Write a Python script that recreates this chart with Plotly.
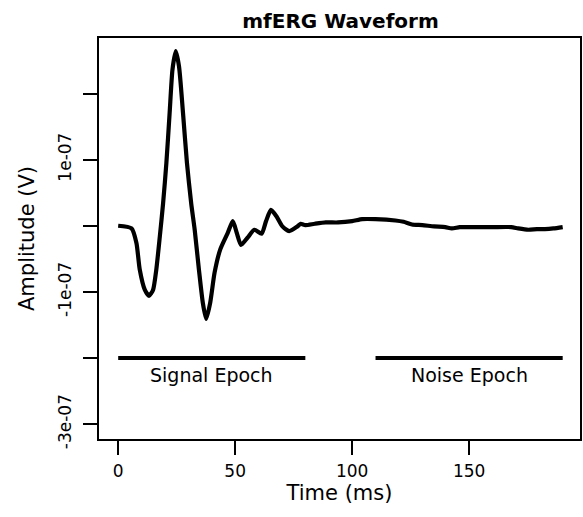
import plotly.graph_objects as go

# Waveform (time in ms, amplitude in 1e-07 V)
time_ms = [0, 5.7, 7.8, 9.2, 11.4, 13.2, 14.9, 16.3, 17.8, 19.2, 20.6, 22.0, 23.2, 24.6,
           26.0, 27.7, 29.4, 31.2, 32.7, 34.5, 36.2, 37.6, 39.3, 41.2, 43.6, 46.8, 49.0,
           50.7, 52.5, 55.3, 58.2, 61.3, 63.2, 65.3, 67.7, 70.2, 73.1, 76.6, 78.0, 80.0,
           84.0, 88.7, 94.0, 100.0, 104.3, 110.0, 118.5, 122.0, 125.6, 130.0, 135.0,
           139.8, 142.6, 146.0, 150.0, 160.0, 168.0, 171.0, 175.3, 179.0, 182.4, 186.0, 190.0]
amp_e7 = [0.0, -0.04, -0.26, -0.66, -0.97, -1.06, -0.97, -0.66, -0.16, 0.34, 0.95, 1.71, 2.36, 2.64,
          2.41, 1.71, 0.95, 0.34, -0.06, -0.66, -1.17, -1.41, -1.17, -0.71, -0.36, -0.11, 0.07,
          -0.11, -0.29, -0.18, -0.06, -0.12, 0.07, 0.24, 0.14, -0.01, -0.08, -0.01, 0.03, 0.01,
          0.03, 0.05, 0.05, 0.07, 0.10, 0.10, 0.08, 0.06, 0.02, 0.01, -0.01,
          -0.02, -0.04, -0.02, -0.02, -0.02, -0.02, -0.04, -0.06, -0.05, -0.05, -0.04, -0.02]
amplitude = [a * 1e-07 for a in amp_e7]

# Epochs
epoch_names = ["Signal Epoch", "Noise Epoch"]
epoch_start = [0, 110]
epoch_end = [80, 190]
epoch_label_x = [40, 150]
epoch_level = -2e-07

x_ticks = [0, 50, 100, 150]
y_ticks = [-3e-07, -2e-07, -1e-07, 0, 1e-07, 2e-07]
y_ticktext = ["-3e-07", "", "-1e-07", "", "1e-07", ""]

FONT = "DejaVu Sans, Liberation Sans, Arial, sans-serif"

fig = go.Figure()
fig.add_trace(go.Scatter(x=time_ms, y=amplitude, mode="lines",
                         line=dict(color="black", width=4.2, shape="spline", smoothing=0.6),
                         showlegend=False, hoverinfo="skip"))
for name, s, e, lx in zip(epoch_names, epoch_start, epoch_end, epoch_label_x):
    fig.add_trace(go.Scatter(x=[s, e], y=[epoch_level, epoch_level], mode="lines",
                             line=dict(color="black", width=4.2), showlegend=False,
                             hoverinfo="skip"))
    fig.add_annotation(x=lx, y=epoch_level, text=name, showarrow=False,
                       yanchor="top", yshift=-4,
                       font=dict(family=FONT, size=19, color="black"))

fig.update_layout(
    width=583, height=517,
    margin=dict(l=99, r=1, t=38, b=78),
    paper_bgcolor="white", plot_bgcolor="white",
    title=dict(text="<b>mfERG Waveform</b>", x=(99 + 582) / 2 / 583, xanchor="center",
               y=1 - 21 / 517, yanchor="middle",
               font=dict(family=FONT, size=20, color="black")),
    font=dict(family=FONT, color="black"),
)
fig.update_xaxes(range=[-8.2, 197.4], tickvals=x_ticks, ticks="outside", ticklen=14,
                 tickwidth=1.5, tickcolor="black", showline=True, mirror=True,
                 linecolor="black", linewidth=1.5, showgrid=False, zeroline=False,
                 ticklabelstandoff=2,
                 tickfont=dict(size=17), title=dict(text="Time (ms)", font=dict(size=21), standoff=3))
fig.update_yaxes(range=[-3.225e-07, 2.84e-07], tickvals=y_ticks, ticktext=y_ticktext,
                 ticks="outside", ticklen=14, tickwidth=1.5, tickcolor="black",
                 showline=True, mirror=True, linecolor="black", linewidth=1.5,
                 showgrid=False, zeroline=False, tickangle=-90, tickfont=dict(size=17),
                 ticklabelstandoff=5,
                 title=dict(text="Amplitude (V)", font=dict(size=21), standoff=15))

fig.write_html("out.html", config={"displayModeBar": False},
               post_script="document.body.style.margin='0';")
